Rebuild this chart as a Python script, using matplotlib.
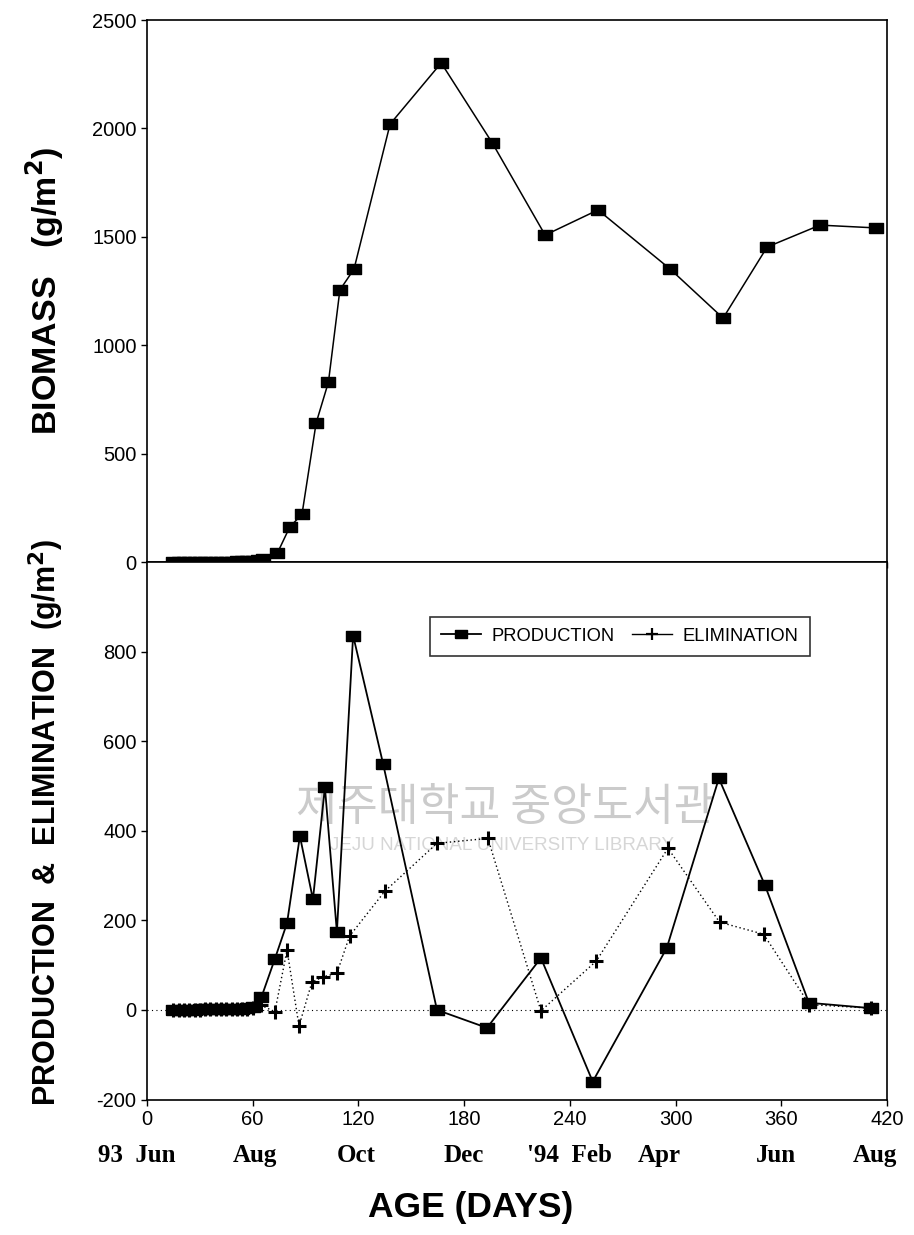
import matplotlib
matplotlib.use("Agg")
import matplotlib.pyplot as plt
from matplotlib.lines import Line2D

# biomass (top panel)
bio_days = [15, 18, 21, 24, 27, 30, 33, 36, 39, 42, 45, 48, 51, 54, 57, 60, 63, 66,
            74, 81, 88, 96, 103, 109.5, 117.5, 138, 167, 196, 226, 256, 297, 327,
            352, 382, 414]
biomass = [0, 0, 0, 0, 0, 0, 1, 1, 1, 1, 2, 2, 3, 3, 4, 6, 9, 15,
           41, 161, 221, 641, 830, 1255, 1351, 2020, 2302, 1933, 1508, 1624, 1351, 1125,
           1453, 1554, 1541]

# production / elimination (bottom panel)
prod_days = [15, 18, 21, 24, 27, 30, 33, 36, 39, 42, 45, 48, 51, 54, 57, 60, 65,
             72.6, 79.5, 86.8, 94.2, 101, 107.8, 117, 134, 164.6, 193, 223.6, 253,
             295, 324.6, 350.7, 375.7, 411]
production = [0, 0, 0, 0, 0, 1, 1, 1, 1, 1, 2, 2, 3, 3, 4, 6, 29,
              114, 194, 388, 247, 497, 174, 836, 550, 0, -40, 116, -160,
              138, 517, 279, 16, 4]

elim_days = [15, 18, 21, 24, 27, 30, 33, 36, 39, 42, 45, 48, 51, 54, 57, 60, 65,
             72.6, 79.5, 86.3, 93.6, 100, 107.8, 115, 135, 164.6, 193.5, 223.6, 255,
             295.7, 325, 350, 376, 411]
elimination = [0, 0, 0, 0, 0, 0, 1, 1, 1, 1, 1, 2, 2, 2, 3, 4, 10,
               -4, 134, -36, 62, 74, 82, 165, 265, 372, 383, -2, 109,
               361, 196, 169, 12, 4]

day_ticks = [0, 60, 120, 180, 240, 300, 360, 420]
month_labels = ["93  Jun", "Aug", "Oct", "Dec", "'94  Feb", "Apr", "Jun", "Aug"]
month_pos = [-6, 61, 119, 180, 240, 291, 357, 413]

# wide rectangle marker like the scanned original
rect = [(-1.4, -1), (1.4, -1), (1.4, 1), (-1.4, 1), (-1.4, -1)]

fig = plt.figure(figsize=(9.14, 12.35), dpi=100)
ax1 = fig.add_axes([0.1608, 0.5449, 0.8096, 0.4389])
ax2 = fig.add_axes([0.1608, 0.1097, 0.8096, 0.4352])

tick_font = dict(family="Liberation Sans", size=14.5)

# --- top panel
ax1.plot(bio_days, biomass, color="black", lw=1.1, marker=rect, ms=10)
ax1.set_xlim(0, 420)
ax1.set_ylim(0, 2500)
ax1.set_xticks(day_ticks)
ax1.set_xticklabels([])
ax1.set_yticks([0, 500, 1000, 1500, 2000, 2500])
ax1.set_yticklabels(["0", "500", "1000", "1500", "2000", "2500"], **tick_font)
ax1.tick_params(direction="out", length=4, width=1)
ax1.set_ylabel("BIOMASS   (g/m$^\\mathbf{2}$)", family="Liberation Sans",
               fontweight="bold", fontsize=24.5)
ax1.yaxis.set_label_coords(-0.109, 0.50)

# --- bottom panel
ax2.axhline(0, color="black", lw=0.8, ls=(0, (1, 3)))
ax2.plot(elim_days, elimination, color="black", lw=1.0, ls=(0, (1, 2)),
         marker="+", ms=10, mew=2.2)
ax2.plot(prod_days, production, color="black", lw=1.3, marker=rect, ms=10)
ax2.set_xlim(0, 420)
ax2.set_ylim(-200, 1000)
ax2.set_xticks(day_ticks)
ax2.set_xticklabels([str(d) for d in day_ticks], **tick_font)
ax2.set_yticks([-200, 0, 200, 400, 600, 800])
ax2.set_yticklabels(["-200", "0", "200", "400", "600", "800"], **tick_font)
ax2.tick_params(direction="out", length=4, width=1)
ax2.set_ylabel("PRODUCTION  &  ELIMINATION  (g/m$^\\mathbf{2}$)", family="Liberation Sans",
               fontweight="bold", fontsize=22)
ax2.yaxis.set_label_coords(-0.11, 0.515)

for a in (ax1, ax2):
    for s in a.spines.values():
        s.set_linewidth(1.2)

for lab, pos in zip(month_labels, month_pos):
    ax2.text(pos, -0.105, lab, transform=ax2.get_xaxis_transform(),
             ha="center", va="center", family="Liberation Serif",
             fontsize=18, fontweight="bold")

ax2.text(0.437, -0.2, "AGE (DAYS)", transform=ax2.transAxes, ha="center", va="center",
         family="Liberation Sans", fontweight="bold", fontsize=25.5)

handles = [
    Line2D([], [], color="black", lw=1.3, marker=rect, ms=8),
    Line2D([], [], color="black", lw=1.0, marker="+", ms=8, mew=1.6),
]
leg = ax2.legend(handles, ["PRODUCTION", "ELIMINATION"], loc="upper left",
                 bbox_to_anchor=(0.382, 0.898), borderaxespad=0, ncol=2, frameon=True,
                 fancybox=False, edgecolor="black", handlelength=2.2, columnspacing=0.9,
                 handletextpad=0.6, prop=dict(family="Liberation Sans", size=13.2),
                 borderpad=0.6)
leg.get_frame().set_linewidth(1.2)

# faint library watermark from the scan
ax2.text(0.485, 0.545, "제주대학교 중앙도서관", transform=ax2.transAxes, ha="center",
         va="center", family="Noto Sans CJK KR", fontsize=32, color="#cbcbcb", zorder=0)
ax2.text(0.48, 0.472, "JEJU NATIONAL UNIVERSITY LIBRARY", transform=ax2.transAxes,
         ha="center", va="center", family="Liberation Sans", fontsize=13.5,
         color="#d6d6d6", zorder=0)

fig.savefig("out.png", dpi=100)
